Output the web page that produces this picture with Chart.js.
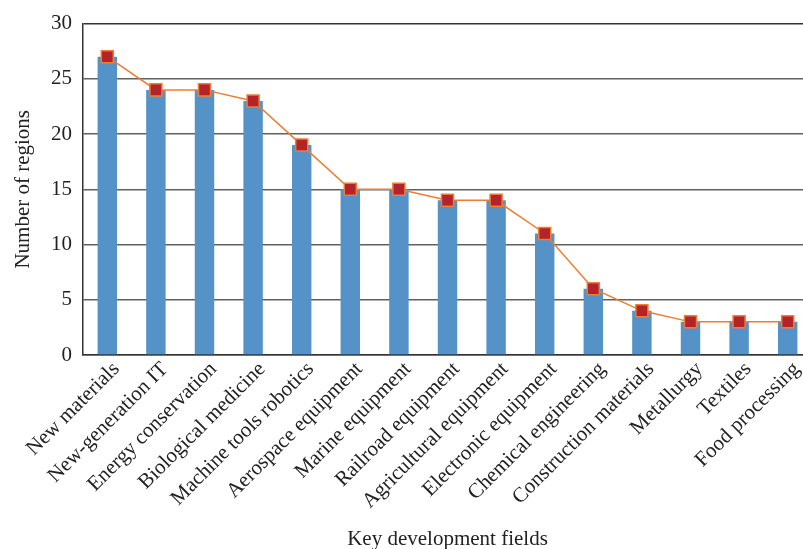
<!DOCTYPE html>
<html>
<head>
<meta charset="utf-8">
<script src="https://cdn.jsdelivr.net/npm/chart.js@4/dist/chart.umd.min.js"></script>
<style>
html,body{margin:0;padding:0;background:#fff;overflow:hidden;}
#wrap{width:822px;height:549px;}
</style>
</head>
<body>
<div id="wrap"><canvas id="c" width="822" height="549"></canvas></div>
<script>
const categories = ["New materials","New-generation IT","Energy conservation","Biological medicine","Machine tools robotics","Aerospace equipment","Marine equipment","Railroad equipment","Agricultural equipment","Electronic equipment","Chemical engineering","Construction materials","Metallurgy","Textiles","Food processing"];
const regionCounts = [27,24,24,23,19,15,15,14,14,11,6,4,3,3,3];
const yTicks = [0,5,10,15,20,25,30];

const serif = "'Liberation Serif','Times New Roman',serif";
new Chart(document.getElementById('c'), {
  data: {
    labels: categories,
    datasets: [
      {
        type: 'line',
        data: regionCounts,
        borderColor: '#ED7D31',
        borderWidth: 1.5,
        backgroundColor: '#B5222A',
        pointStyle: 'rect',
        pointRadius: 8.5,
        pointBorderColor: '#ED7D31',
        pointBorderWidth: 1.5,
        tension: 0,
        order: 0
      },
      {
        type: 'bar',
        data: regionCounts,
        backgroundColor: '#5592C8',
        barPercentage: 0.4,
        categoryPercentage: 1,
        order: 1
      }
    ]
  },
  options: {
    responsive: false,
    animation: false,
    devicePixelRatio: 1,
    layout: { padding: { left: 0, right: 0, top: 16, bottom: 0 } },
    plugins: { legend: { display: false }, tooltip: { enabled: false } },
    scales: {
      x: {
        grid: { display: false, drawTicks: false },
        border: { color: '#333', width: 1.5 },
        ticks: {
          minRotation: 45, maxRotation: 45, autoSkip: false,
          padding: 2,
          labelOffset: 9,
          color: '#222',
          font: { family: serif, size: 21 }
        },
        title: {
          display: true, text: 'Key development fields', color: '#222',
          font: { family: serif, size: 21 },
          padding: { top: 0, bottom: -3 }
        },
        afterFit: s => { s.height = 194; }
      },
      y: {
        min: 0, max: 30,
        afterBuildTicks: s => { s.ticks = yTicks.map(v => ({ value: v })); },
        grid: {
          color: c => c.tick && c.tick.value === 30 ? '#333' : '#606060',
          lineWidth: 1.5, drawTicks: false
        },
        border: { color: '#333', width: 1.5 },
        ticks: {
          padding: 11,
          color: '#222',
          font: { family: serif, size: 21 }
        },
        title: {
          display: true, text: 'Number of regions', color: '#222',
          font: { family: serif, size: 21 },
          padding: { top: 11, bottom: 4 }
        },
        afterFit: s => { s.width = 83; }
      }
    }
  }
});
</script>
</body>
</html>
